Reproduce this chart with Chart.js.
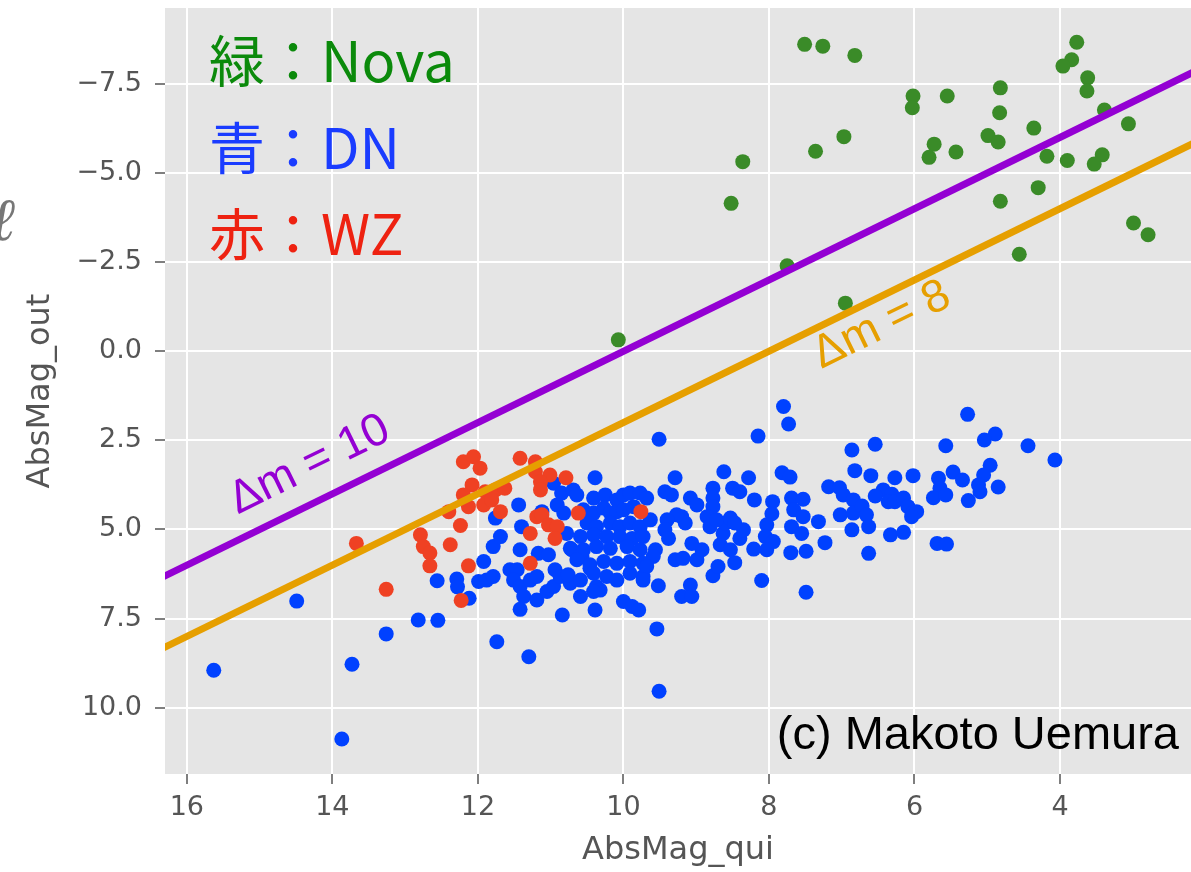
<!DOCTYPE html>
<html>
<head>
<meta charset="utf-8">
<script src="https://cdn.jsdelivr.net/npm/chart.js@4.4.1/dist/chart.umd.min.js"></script>
<style>
  html, body { margin: 0; padding: 0; background: #fff; overflow: hidden; }
  canvas { display: block; }
</style>
</head>
<body>
<canvas id="myChart" width="1191" height="872"></canvas>
<script>
// Nova (green)
const novaQui = [7.51, 7.26, 6.82, 6.97, 7.36, 8.36, 8.52, 7.75, 6.95, 10.07,
  3.77, 3.84, 3.96, 3.62, 3.63, 6.02, 6.03, 5.55, 4.82, 4.83,
  4.36, 4.99, 4.85, 3.39, 3.06, 5.73, 5.80, 5.43, 4.18, 3.90,
  3.42, 3.53, 4.30, 4.82, 2.99, 2.79, 4.56];
const novaOut = [-8.61, -8.56, -8.30, -6.02, -5.61, -5.32, -4.15, -2.40, -1.35, -0.32,
  -8.67, -8.18, -8.00, -7.67, -7.30, -7.16, -6.83, -7.16, -7.39, -6.69,
  -6.26, -6.05, -5.87, -6.77, -6.38, -5.81, -5.44, -5.59, -5.47, -5.35,
  -5.51, -5.25, -4.59, -4.21, -3.60, -3.27, -2.72];

// WZ (red)
const wzQui = [13.67, 13.26, 12.79, 12.75, 12.66, 12.66, 12.38, 12.13, 12.23, 12.40,
  12.24, 12.20, 12.06, 11.97, 12.08, 12.20, 11.90, 11.76, 11.63, 12.13,
  11.92, 11.81, 11.69, 11.42, 11.21, 11.21, 11.01, 10.79, 11.14, 11.14,
  11.28, 11.19, 11.12, 11.28, 11.03, 10.91, 10.94, 10.62, 9.76];
const wzOut = [5.39, 6.68, 5.15, 5.48, 5.66, 6.02, 5.43, 6.02, 6.99, 4.50,
  4.89, 3.10, 2.96, 3.28, 3.75, 4.03, 3.94, 3.89, 3.84, 4.36,
  4.31, 4.17, 4.50, 3.00, 3.10, 3.38, 3.47, 3.55, 3.66, 3.89,
  5.95, 4.64, 4.59, 5.11, 4.87, 4.92, 5.25, 4.54, 4.50];

// DN (blue)
const dnQui = [15.63, 14.49, 13.87, 13.73, 13.26, 12.82, 12.55, 12.56, 12.29, 12.28,
  12.12, 11.99, 11.88, 11.79, 11.92, 11.79, 11.69, 11.76, 11.44, 11.40,
  11.42, 11.56, 11.46, 11.51, 11.42, 11.37, 11.42, 11.74, 11.30, 11.19,
  11.05, 10.96, 11.28, 11.19, 11.17, 11.03, 10.94, 10.87, 10.73, 10.84,
  11.12, 10.96, 10.39, 10.85, 10.69, 10.64, 10.91, 10.82, 10.78, 10.71,
  10.57, 10.46, 10.37, 10.59, 10.39, 10.32, 10.76, 10.41, 10.25, 10.09,
  10.00, 9.91, 9.77, 9.68, 10.55, 10.41, 10.27, 10.18, 10.09, 10.00,
  9.86, 10.50, 10.37, 10.18, 10.05, 9.91, 9.77, 9.63, 10.59, 10.41,
  10.23, 10.05, 9.88, 9.73, 10.73, 10.55, 10.37, 10.18, 9.95, 9.77,
  10.64, 10.46, 10.27, 10.09, 9.91, 9.73, 10.59, 10.41, 10.23, 10.09,
  9.91, 9.73, 10.41, 10.00, 9.88, 9.79, 9.54, 9.51, 9.51, 9.29,
  9.43, 9.34, 9.08, 8.99, 8.77, 8.77, 8.77, 8.62, 8.50, 8.40,
  8.28, 8.20, 8.15, 7.80, 7.73, 7.82, 7.71, 7.95, 7.96, 8.03,
  8.05, 7.94, 8.03, 7.69, 7.53, 7.66, 7.53, 7.69, 7.55, 7.32,
  7.23, 7.70, 7.49, 7.18, 7.03, 6.98, 7.02, 6.84, 6.84, 6.86,
  6.86, 6.82, 8.10, 7.49, 9.52, 9.20, 9.08, 9.06, 8.77, 8.70,
  8.47, 9.29, 9.18, 8.99, 8.92, 9.06, 8.67, 8.53, 8.63, 8.60,
  8.40, 8.35, 8.21, 8.85, 8.81, 8.72, 8.53, 8.47, 9.20, 9.15,
  9.27, 9.40, 9.43, 9.38, 9.56, 9.59, 9.68, 9.73, 5.27, 4.89,
  5.04, 4.44, 4.07, 6.54, 5.57, 4.96, 5.05, 5.12, 5.10, 4.85,
  5.47, 5.34, 5.26, 5.67, 5.65, 5.74, 5.57, 6.02, 6.27, 6.60,
  6.43, 6.54, 6.31, 6.36, 6.27, 6.15, 6.09, 6.02, 5.97, 6.04,
  6.72, 6.66, 6.63, 6.33, 6.15, 6.63, 5.69, 5.56];
const dnOut = [8.95, 7.01, 10.88, 8.78, 7.93, 7.54, 7.55, 6.44, 6.39, 6.61,
  6.93, 6.46, 6.42, 6.32, 5.90, 5.48, 5.20, 4.68, 4.31, 4.92,
  5.57, 6.13, 6.13, 6.42, 6.60, 6.88, 7.24, 8.15, 8.57, 6.98,
  6.74, 6.60, 6.42, 6.32, 5.67, 5.71, 6.13, 6.32, 6.51, 7.40,
  4.50, 3.70, 3.55, 3.98, 3.89, 4.03, 4.31, 4.54, 5.11, 5.57,
  5.76, 6.09, 6.60, 6.88, 7.26, 6.70, 6.27, 4.12, 4.03, 4.17,
  4.03, 3.98, 3.98, 4.12, 4.45, 4.54, 4.40, 4.54, 4.50, 4.45,
  4.36, 4.82, 4.92, 4.82, 4.92, 4.82, 4.92, 4.73, 5.20, 5.15,
  5.20, 5.20, 5.25, 5.20, 5.53, 5.57, 5.48, 5.53, 5.48, 5.57,
  5.85, 5.99, 5.90, 5.95, 5.90, 5.95, 6.42, 6.23, 6.32, 6.42,
  6.23, 6.32, 6.74, 7.02, 7.16, 7.26, 7.79, 9.54, 2.47, 3.55,
  3.94, 4.03, 4.12, 4.31, 3.84, 4.12, 4.36, 3.38, 3.84, 3.94,
  3.55, 4.17, 2.38, 1.55, 2.04, 3.41, 3.53, 4.22, 4.56, 4.87,
  5.20, 5.34, 5.57, 4.12, 4.15, 4.45, 4.64, 4.92, 5.11, 4.78,
  5.37, 5.65, 5.61, 3.80, 3.83, 4.03, 4.59, 4.17, 4.54, 5.01,
  2.77, 3.35, 6.43, 6.76, 6.58, 6.88, 6.56, 6.88, 6.30, 6.04,
  5.93, 5.85, 5.81, 5.85, 5.57, 5.39, 5.43, 5.57, 5.11, 4.82,
  5.25, 5.01, 5.55, 4.64, 4.92, 4.73, 4.68, 4.82, 4.64, 4.82,
  4.59, 4.73, 5.01, 5.25, 5.57, 5.76, 6.04, 6.42, 1.77, 2.32,
  2.49, 2.65, 3.05, 2.61, 2.65, 3.20, 3.47, 3.75, 3.94, 3.81,
  3.39, 3.61, 4.19, 3.56, 3.84, 4.11, 4.03, 3.49, 3.55, 3.49,
  3.89, 4.06, 4.01, 4.22, 4.22, 4.12, 4.36, 4.54, 4.50, 4.64,
  4.34, 4.59, 4.92, 5.15, 5.08, 5.67, 5.39, 5.41];

// Δm reference lines (AbsMag_out = AbsMag_qui - Δm), endpoints
const lineQui = [16.4, 2.1];
const dm10Out = [6.4, -7.9];
const dm8Out = [8.4, -5.9];

// axis ticks and view limits
const xTicks = [16, 14, 12, 10, 8, 6, 4];
const yTicks = [-7.5, -5.0, -2.5, 0.0, 2.5, 5.0, 7.5, 10.0];
const xLimits = [2.20, 16.30];
const yLimits = [-9.63, 11.86];

function toPoints(xs, ys) {
  return xs.map((x, i) => ({ x: x, y: ys[i] }));
}

const panelBg = {
  id: 'panelBg',
  beforeDraw(chart) {
    const { ctx, chartArea: a } = chart;
    ctx.save();
    ctx.fillStyle = '#ffffff';
    ctx.fillRect(0, 0, chart.width, chart.height);
    ctx.fillStyle = '#e5e5e5';
    ctx.fillRect(a.left, a.top, a.right - a.left, a.bottom - a.top);
    ctx.restore();
  }
};

const labels = {
  id: 'labels',
  afterDraw(chart) {
    const ctx = chart.ctx;
    const xs = chart.scales.x, ys = chart.scales.y;
    ctx.save();

    // legend text, top left
    ctx.font = '56px "Noto Sans CJK JP"';
    ctx.textAlign = 'left';
    ctx.textBaseline = 'alphabetic';
    ctx.fillStyle = '#0b8a0b';
    ctx.fillText('緑：Nova', 209, 82);
    ctx.fillStyle = '#1a3cff';
    ctx.fillText('青：DN', 209, 169);
    ctx.fillStyle = '#ee2211';
    ctx.fillText('赤：WZ', 209, 255);

    // rotated Δm labels, same slope as the lines
    const ang = Math.atan2(
      ys.getPixelForValue(dm10Out[1]) - ys.getPixelForValue(dm10Out[0]),
      xs.getPixelForValue(lineQui[1]) - xs.getPixelForValue(lineQui[0]));
    ctx.font = '46px "Liberation Sans"';
    const annot = [
      { text: 'Δm = 10', x: 15.30, y: 4.58, color: '#9400d3' },
      { text: 'Δm = 8', x: 7.28, y: 0.50, color: '#e69f00' }
    ];
    annot.forEach(a => {
      ctx.save();
      ctx.translate(xs.getPixelForValue(a.x), ys.getPixelForValue(a.y));
      ctx.rotate(ang);
      ctx.fillStyle = a.color;
      ctx.fillText(a.text, 0, 0);
      ctx.restore();
    });

    // credit
    ctx.font = '47px "Liberation Sans"';
    ctx.textAlign = 'right';
    ctx.fillStyle = '#000';
    ctx.fillText('(c) Makoto Uemura', 1179, 749);

    // stray glyph at the left edge
    ctx.font = 'italic 60px "DejaVu Serif"';
    ctx.textAlign = 'left';
    ctx.fillStyle = '#777';
    ctx.fillText('ℓ', -10, 240);
    ctx.restore();
  }
};

function noPad(s) {
  s.paddingTop = 0;
  s.paddingBottom = 0;
  s.paddingLeft = 0;
  s.paddingRight = 0;
}

const ctx = document.getElementById('myChart').getContext('2d');
const tickFont = { family: 'DejaVu Sans', size: 27 };
const titleFont = { family: 'DejaVu Sans', size: 32 };

new Chart(ctx, {
  type: 'scatter',
  data: {
    datasets: [
      {
        type: 'line', label: 'dm10', data: toPoints(lineQui, dm10Out),
        borderColor: '#9400d3', borderWidth: 7, pointRadius: 0, clip: 0, order: 0
      },
      {
        type: 'line', label: 'dm8', data: toPoints(lineQui, dm8Out),
        borderColor: '#e69f00', borderWidth: 7, pointRadius: 0, clip: 0, order: 0
      },
      {
        label: 'WZ', data: toPoints(wzQui, wzOut),
        backgroundColor: '#ef4123', borderWidth: 0, pointRadius: 7.5, order: 1
      },
      {
        label: 'DN', data: toPoints(dnQui, dnOut),
        backgroundColor: '#0041ff', borderWidth: 0, pointRadius: 7.5, order: 2
      },
      {
        label: 'Nova', data: toPoints(novaQui, novaOut),
        backgroundColor: '#3a8b28', borderWidth: 0, pointRadius: 7.5, order: 3
      }
    ]
  },
  options: {
    responsive: false,
    animation: false,
    layout: { autoPadding: false, padding: { top: 8, right: 0, left: 0, bottom: 0 } },
    plugins: { legend: { display: false }, tooltip: { enabled: false } },
    scales: {
      x: {
        type: 'linear', reverse: true, min: xLimits[0], max: xLimits[1],
        afterBuildTicks: s => { s.ticks = xTicks.map(v => ({ value: v })); },
        afterFit: s => { s.height = 98; noPad(s); },
        border: { display: false },
        grid: { color: '#ffffff', lineWidth: 2, tickColor: '#555', tickLength: 10, tickWidth: 1.5 },
        ticks: { color: '#555', font: tickFont, padding: 8, autoSkip: false, maxRotation: 0,
                 callback: v => String(v) },
        title: { display: true, text: 'AbsMag_qui', color: '#555', font: titleFont,
                 padding: { top: 0, bottom: 2 } }
      },
      y: {
        type: 'linear', reverse: true, min: yLimits[0], max: yLimits[1],
        afterBuildTicks: s => { s.ticks = yTicks.map(v => ({ value: v })); },
        afterFit: s => { s.width = 165; noPad(s); },
        border: { display: false },
        grid: { color: '#ffffff', lineWidth: 2, tickColor: '#555', tickLength: 10, tickWidth: 1.5 },
        ticks: { color: '#555', font: tickFont, padding: 13, autoSkip: false,
                 callback: v => (v < 0 ? '\u2212' : '') + Math.abs(v).toFixed(1) },
        title: { display: true, text: 'AbsMag_out', color: '#555', font: titleFont,
                 padding: { top: 21, bottom: 0 } }
      }
    }
  },
  plugins: [panelBg, labels]
});
</script>
</body>
</html>
